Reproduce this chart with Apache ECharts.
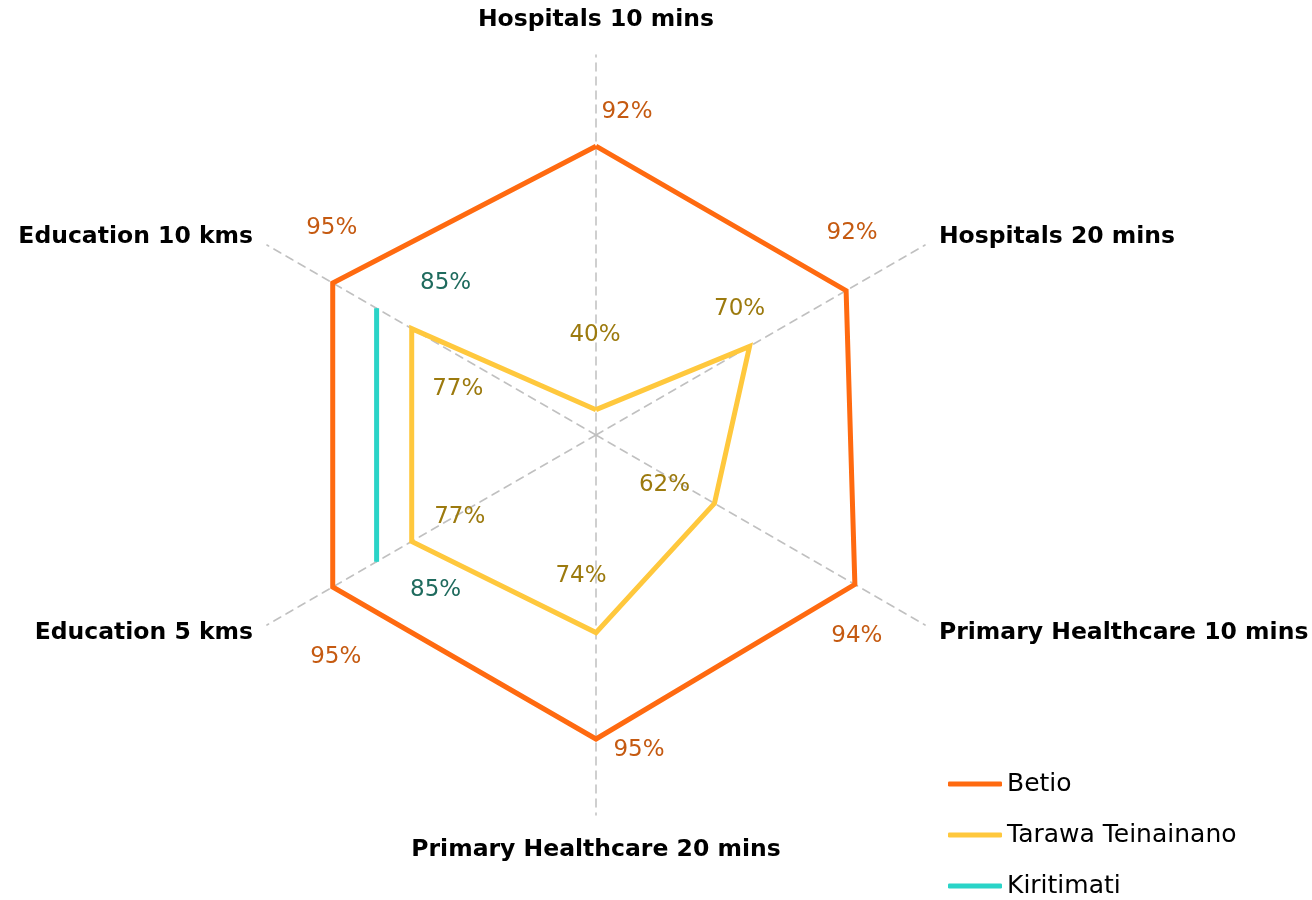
<!DOCTYPE html>
<html>
<head>
<meta charset="utf-8">
<title>Access radar</title>
<script src="https://cdn.jsdelivr.net/npm/echarts@6/dist/echarts.min.js"></script>
<style>
  html, body { margin: 0; padding: 0; background: #fff; }
  #chart { width: 1312px; height: 900px; }
</style>
</head>
<body>
<div id="chart"></div>
<script>
// categories, clockwise from the top
const categories = [
  "Hospitals 10 mins",
  "Hospitals 20 mins",
  "Primary Healthcare 10 mins",
  "Primary Healthcare 20 mins",
  "Education 5 kms",
  "Education 10 kms",
];

const betio = [0.92, 0.92, 0.94, 0.95, 0.95, 0.95];
const tarawa = [0.40, 0.70, 0.62, 0.74, 0.77, 0.77];
const kiritimati = [null, null, null, null, 0.85, 0.85];

const axisMin = 0.35;
const axisMax = 1.1;

// label offsets per vertex (px), same order as categories
const betioLabelOffset = [[31, -34], [6, -58], [2, 52], [43, 11], [3, 70], [-1, -55]];
const tarawaLabelOffset = [[-1, -75], [-10, -37], [-50, -18], [-15, -57], [48, -24], [46, 60]];
const kiritimatiLabelOffset = [null, null, null, null, [59, 28], [69, -25]];

const center = [596, 435];
const radius = 380;
const fontFamily = "'DejaVu Sans', sans-serif";

const chart = echarts.init(document.getElementById("chart"));

// build polar points, closing the polygon when asked
const buildPoints = (values, offsets, labelColor, closed) => {
  const step = 360 / values.length;
  const pts = values.map((v, i) => ({
    value: [v == null ? "-" : v, i * step],
    label: offsets[i]
      ? { show: true, position: "inside", offset: offsets[i], color: labelColor }
      : { show: false },
  }));
  if (closed) {
    pts.push({ value: [values[0], 360], label: { show: false } });
  }
  return pts;
};

const pctLabel = (p) => Math.round(p.value[0] * 100) + "%";

const lineSeries = (name, color, data) => ({
  name: name,
  type: "line",
  coordinateSystem: "polar",
  data: data,
  symbol: "circle",
  symbolSize: 1,
  connectNulls: false,
  itemStyle: { color: color },
  lineStyle: { color: color, width: 5, join: "miter" },
  label: {
    fontFamily: fontFamily,
    fontSize: 23,
    formatter: pctLabel,
  },
  emphasis: { disabled: true },
  animation: false,
});

// radar indicators go counter-clockwise, so reorder to match
const indicatorOrder = [0, 5, 4, 3, 2, 1];

const option = {
  backgroundColor: "#ffffff",
  radar: {
    center: center,
    radius: radius,
    startAngle: 90,
    indicator: indicatorOrder.map((i) => ({ name: categories[i], min: axisMin, max: axisMax })),
    axisNameGap: 16,
    axisName: {
      color: "#000",
      fontFamily: fontFamily,
      fontWeight: "bold",
      fontSize: 23.5,
      lineHeight: 38,
    },
    splitNumber: 1,
    splitLine: { show: false },
    splitArea: { show: false },
    axisLine: {
      lineStyle: { color: "#c0c0c0", width: 1.5, type: [8, 6] },
    },
    axisTick: { show: false },
    axisLabel: { show: false },
  },
  polar: {
    center: center,
    radius: radius,
  },
  angleAxis: {
    type: "value",
    min: 0,
    max: 360,
    startAngle: 90,
    clockwise: true,
    show: false,
  },
  radiusAxis: {
    type: "value",
    min: axisMin,
    max: axisMax,
    show: false,
  },
  legend: {
    orient: "vertical",
    left: 948,
    top: 770,
    padding: 0,
    icon: "roundRect",
    itemWidth: 54,
    itemHeight: 5,
    itemGap: 23,
    data: ["Betio", "Tarawa Teinainano", "Kiritimati"],
    textStyle: {
      color: "#000",
      fontFamily: fontFamily,
      fontSize: 25,
      lineHeight: 28,
    },
  },
  series: [
    lineSeries("Betio", "#ff6a10", buildPoints(betio, betioLabelOffset, "#c55a11", true)),
    lineSeries("Tarawa Teinainano", "#ffc83d", buildPoints(tarawa, tarawaLabelOffset, "#9c7a0e", true)),
    lineSeries("Kiritimati", "#2ad4c8", buildPoints(kiritimati, kiritimatiLabelOffset, "#1f6b5e", false)),
  ],
};

chart.setOption(option);
</script>
</body>
</html>
